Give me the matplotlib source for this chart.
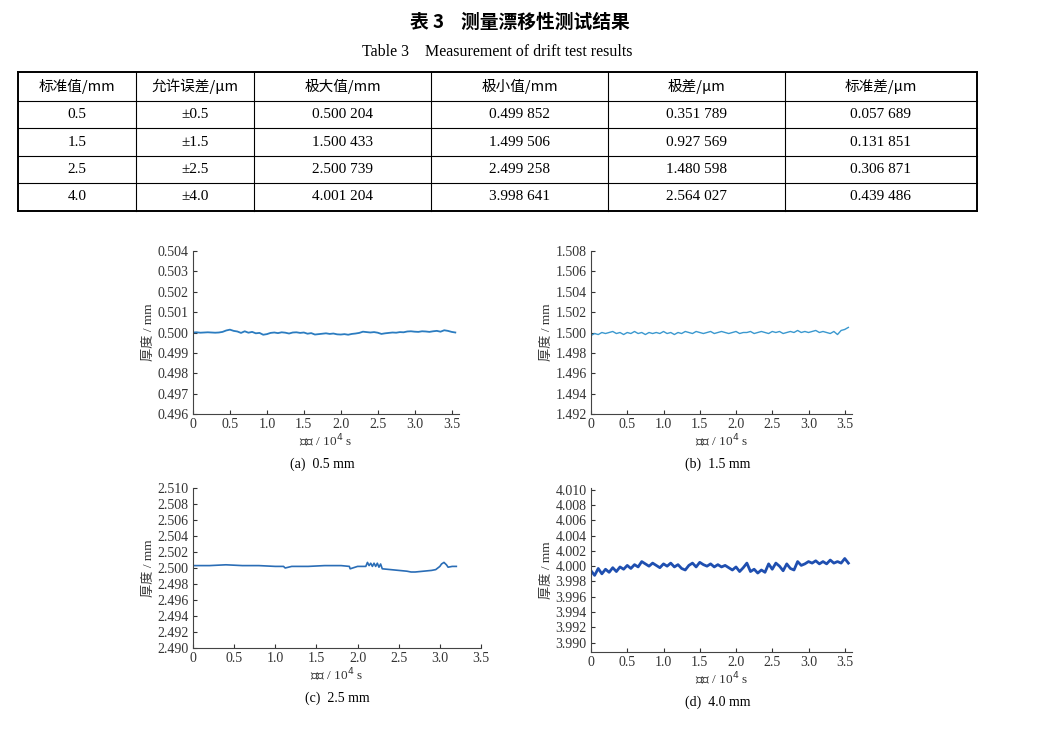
import matplotlib
matplotlib.use("Agg")
import matplotlib.pyplot as plt
import numpy as np

# ---------------- data ----------------
table_header = ["标准值/mm", "允许误差/μm", "极大值/mm", "极小值/mm", "极差/μm", "标准差/μm"]
table_rows = [
    ["0.5", "±0.5", "0.500 204", "0.499 852", "0.351 789", "0.057 689"],
    ["1.5", "±1.5", "1.500 433", "1.499 506", "0.927 569", "0.131 851"],
    ["2.5", "±2.5", "2.500 739", "2.499 258", "1.480 598", "0.306 871"],
    ["4.0", "±4.0", "4.001 204", "3.998 641", "2.564 027", "0.439 486"],
]

t_a = [i * 0.05 for i in range(72)]
y_a = [0.50000, 0.50001, 0.49999, 0.50000, 0.50001, 0.50000, 0.49999, 0.50000, 0.50003, 0.50010,
       0.50014, 0.50008, 0.50005, 0.49998, 0.50006, 0.49999, 0.50003, 0.49996, 0.49998, 0.49989,
       0.49992, 0.49998, 0.50000, 0.49997, 0.50001, 0.49999, 0.49995, 0.50000, 0.50001, 0.49998,
       0.50000, 0.49994, 0.49997, 0.49990, 0.49992, 0.49994, 0.49996, 0.49993, 0.49995, 0.49991,
       0.49990, 0.49992, 0.49989, 0.49993, 0.49995, 0.49998, 0.50004, 0.50002, 0.50000, 0.50002,
       0.49999, 0.49993, 0.49996, 0.49998, 0.50000, 0.49999, 0.50002, 0.50001, 0.50005, 0.50006,
       0.50004, 0.50003, 0.50006, 0.50005, 0.50003, 0.50006, 0.50008, 0.50004, 0.50011, 0.50008,
       0.50003, 0.50000]

t_b = [i * 0.05 for i in range(72)]
y_b = [1.4997, 1.4999, 1.4998, 1.5000, 1.4999, 1.5000, 1.5001, 1.4999, 1.5000, 1.4998,
       1.5000, 1.4999, 1.5001, 1.4999, 1.5000, 1.4998, 1.5000, 1.4999, 1.5000, 1.4999,
       1.5001, 1.4999, 1.5000, 1.4998, 1.5000, 1.4999, 1.5001, 1.5000, 1.4999, 1.5001,
       1.5000, 1.4999, 1.5000, 1.5001, 1.4999, 1.5000, 1.5001, 1.5000, 1.4999, 1.5000,
       1.5001, 1.4999, 1.5000, 1.5000, 1.5001, 1.4999, 1.5000, 1.5001, 1.5000, 1.4999,
       1.5001, 1.5000, 1.5001, 1.4999, 1.5000, 1.5001, 1.5000, 1.5002, 1.5000, 1.5001,
       1.5000, 1.5001, 1.5002, 1.5000, 1.5001, 1.5000, 1.4999, 1.5001, 1.4998, 1.5002,
       1.5003, 1.5005]

t_c = [0.0, 0.2, 0.4, 0.6, 0.8, 1.0, 1.1, 1.12, 1.2, 1.4, 1.6, 1.8, 1.9, 1.91, 2.0, 2.1,
       2.12, 2.14, 2.16, 2.18, 2.20, 2.22, 2.24, 2.26, 2.28, 2.30, 2.4, 2.5, 2.6, 2.65, 2.7,
       2.8, 2.9, 2.95, 3.0, 3.02, 3.05, 3.08, 3.1, 3.15, 3.2]
y_c = [2.5003, 2.5003, 2.5004, 2.5003, 2.5003, 2.5002, 2.5002, 2.5000, 2.5002, 2.5002,
       2.5003, 2.5003, 2.5002, 2.4999, 2.5002, 2.5002, 2.5007, 2.5003, 2.5006, 2.5002,
       2.5006, 2.5002, 2.5006, 2.5001, 2.5005, 2.4999, 2.4998, 2.4997, 2.4996, 2.4995,
       2.4995, 2.4996, 2.4997, 2.4998, 2.5002, 2.5005, 2.5007, 2.5004, 2.5001, 2.5002, 2.5002]

t_d = [i * 0.05 for i in range(72)]
y_d = [3.9994, 3.9988, 3.9997, 3.9990, 3.9996, 3.9992, 3.9998, 3.9993, 3.9999, 3.9996,
       4.0001, 3.9997, 4.0002, 3.9999, 4.0006, 4.0003, 4.0000, 4.0004, 4.0001, 3.9998,
       4.0003, 4.0000, 4.0004, 3.9999, 4.0002, 3.9997, 3.9995, 4.0001, 4.0004, 3.9999,
       4.0005, 4.0002, 4.0000, 4.0003, 3.9999, 4.0002, 3.9999, 4.0001, 3.9998, 3.9995,
       3.9999, 3.9993, 3.9998, 4.0004, 3.9993, 3.9996, 3.9991, 3.9995, 3.9992, 4.0003,
       3.9996, 4.0004, 4.0000, 3.9994, 4.0003, 3.9997, 3.9995, 4.0006, 4.0001, 4.0003,
       4.0006, 4.0004, 4.0007, 4.0003, 4.0006, 4.0003, 4.0008, 4.0004, 4.0006, 4.0004,
       4.0010, 4.0004]

panels = [
    dict(t=t_a, y=y_a, ylim=(0.496, 0.504), yticks=np.arange(0.496, 0.50401, 0.001),
         xlim=(0, 3.6), color="#2b7cc0", lw=1.3, cap="(a)  0.5 mm",
         rect=(193, 251, 459, 414)),
    dict(t=t_b, y=y_b, ylim=(1.492, 1.508), yticks=np.arange(1.492, 1.50801, 0.002),
         xlim=(0, 3.6), color="#3a98cf", lw=1.0, cap="(b)  1.5 mm",
         rect=(591, 251, 852, 414)),
    dict(t=t_c, y=y_c, ylim=(2.490, 2.510), yticks=np.arange(2.490, 2.51001, 0.002),
         xlim=(0, 3.5), color="#2a6db6", lw=1.2, cap="(c)  2.5 mm",
         rect=(193, 488, 481, 648)),
    dict(t=t_d, y=y_d, ylim=(3.9888, 4.0102), yticks=np.arange(3.990, 4.01001, 0.002),
         xlim=(0, 3.6), color="#1f4fb0", lw=2.0, cap="(d)  4.0 mm",
         rect=(591, 488, 852, 652)),
]

# ---------------- figure ----------------
W, H = 1044, 730
fig = plt.figure(figsize=(W / 100, H / 100), dpi=100)
cjk_list = ["Noto Sans CJK SC", "Noto Sans CJK JP", "Noto Sans CJK TC", "DejaVu Sans"]
serif = ["Liberation Serif"] + cjk_list
cjk = cjk_list
plt.rcParams["font.family"] = serif

fig.text(520 / W, 1 - 22 / H, "表 3    测量漂移性测试结果", ha="center", va="center",
         fontsize=13.5, fontweight="bold", family=cjk)
fig.text(497 / W, 1 - 52 / H, "Table 3    Measurement of drift test results", ha="center",
         va="center", fontsize=11.5, family=serif)

# table
tax = fig.add_axes([0, 0, 1, 1])
tax.set_xlim(0, W)
tax.set_ylim(H, 0)
tax.axis("off")
cols = [18, 136, 254, 431, 608, 785, 977]
rows = [72, 101, 128, 156, 183, 211]
for x in cols:
    lw = 1.4 if x in (18, 977) else 0.8
    tax.plot([x, x], [rows[0], rows[-1]], color="black", lw=lw)
for i, y in enumerate(rows):
    lw = 1.4 if i in (0, len(rows) - 1) else 0.8
    tax.plot([cols[0], cols[-1]], [y, y], color="black", lw=lw)
all_rows = [table_header] + table_rows
for r, row in enumerate(all_rows):
    yc = (rows[r] + rows[r + 1]) / 2
    for c, txt in enumerate(row):
        xc = (cols[c] + cols[c + 1]) / 2
        tax.text(xc, yc, txt, ha="center", va="center", fontsize=11 if r else 10.5,
                 family=cjk if r == 0 else serif)

for p in panels:
    l, t, r, b = p["rect"]
    ax = fig.add_axes([l / W, 1 - b / H, (r - l) / W, (b - t) / H])
    ax.plot(p["t"], p["y"], color=p["color"], lw=p["lw"])
    ax.set_xlim(*p["xlim"])
    ax.set_ylim(*p["ylim"])
    ax.set_yticks(p["yticks"])
    ax.set_yticklabels([f"{v:.3f}" for v in p["yticks"]])
    xt = np.arange(0, 3.51, 0.5)
    ax.set_xticks(xt)
    ax.set_xticklabels(["0"] + [f"{v:.1f}" for v in xt[1:]])
    for s in ("top", "right"):
        ax.spines[s].set_visible(False)
    for s in ("left", "bottom"):
        ax.spines[s].set_color("#444444")
        ax.spines[s].set_linewidth(0.8)
    ax.tick_params(direction="in", length=3, width=0.8, labelsize=10, pad=3, colors="#333333")
    ax.set_ylabel("厚度 / mm", family=serif, fontsize=9.5, color="#333333", labelpad=2)
    ax.set_xlabel("时间 / 10$^4$ s", family=serif, fontsize=9.5, color="#333333", labelpad=1)
    fig.text((l + 3.5 / p["xlim"][1] * (r - l) / 2) / W, 1 - (b + 50) / H, p["cap"],
             ha="center", va="center", fontsize=10, family=serif)

fig.savefig("out.png", dpi=100)
